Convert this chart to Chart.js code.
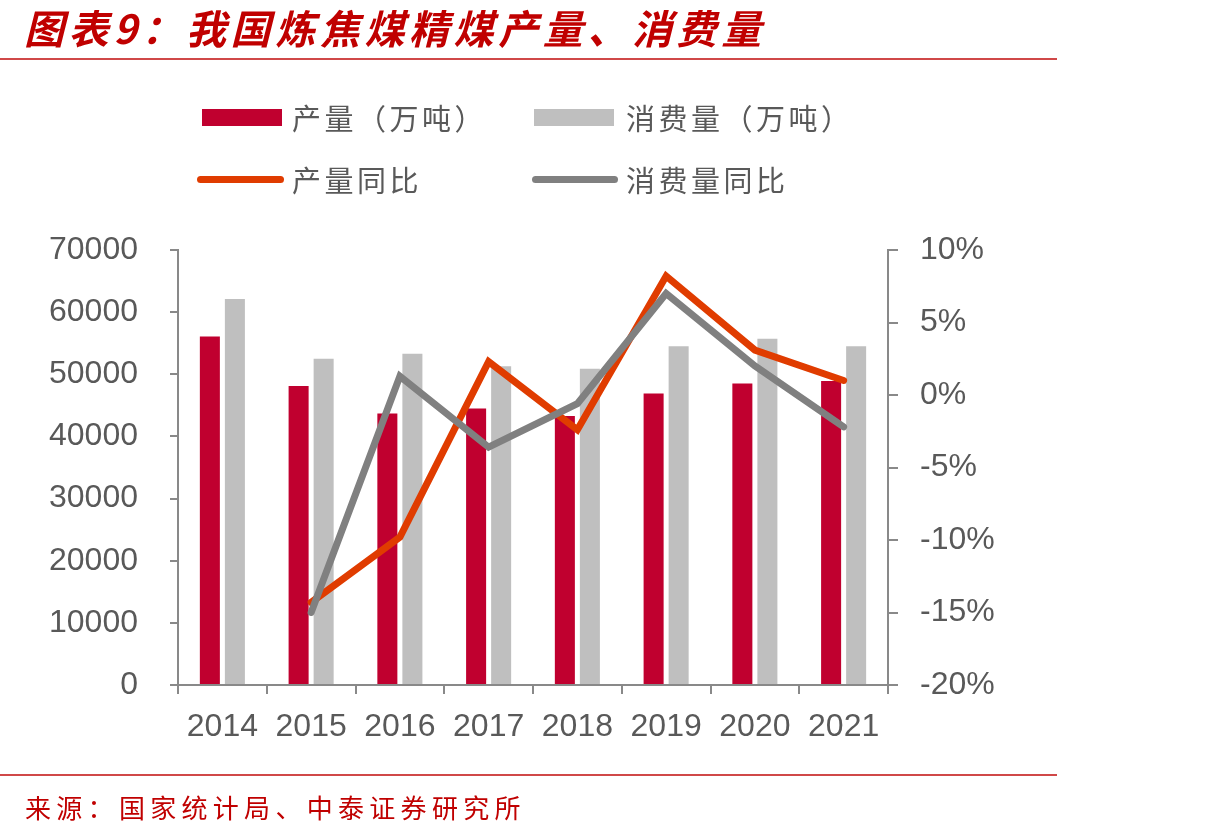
<!DOCTYPE html>
<html>
<head>
<meta charset="utf-8">
<script src="https://cdn.jsdelivr.net/npm/chart.js@4/dist/chart.umd.min.js"></script>
<style>
  html, body { margin: 0; padding: 0; background: #fff; }
  #wrap { position: relative; width: 1216px; height: 839px; overflow: hidden; }
  #c { position: absolute; left: 0; top: 0; }
  .title { position: absolute; left: 24px; top: 2px; font-family: "Noto Sans CJK SC", sans-serif; font-weight: 700; font-style: italic; font-size: 40px; line-height: 50px; color: #C00000; letter-spacing: 4.6px; white-space: nowrap; }
  .rule { position: absolute; left: 0; width: 1057px; height: 2px; background: #D04848; }
  .source { position: absolute; left: 25px; top: 789px; font-family: "Noto Sans CJK SC", sans-serif; font-size: 26px; line-height: 36px; color: #C00000; letter-spacing: 5.3px; white-space: nowrap; }
  .lg { position: absolute; font-family: "Noto Sans CJK SC", sans-serif; font-size: 29px; line-height: 40px; color: #595959; white-space: nowrap; letter-spacing: 3.5px; }
  .box { position: absolute; width: 80px; height: 17px; }
  .ln { position: absolute; height: 7px; border-radius: 4px; }
</style>
</head>
<body>
<div id="wrap">
  <canvas id="c" width="1216" height="839"></canvas>
  <div class="title">图表9：我国炼焦煤精煤产量、消费量</div>
  <div class="rule" style="top:58px"></div>
  <div class="box" style="left:202px; top:109px; background:#C0002F"></div>
  <div class="lg" style="left:292px; top:97px">产量（万吨）</div>
  <div class="box" style="left:534px; top:109px; background:#BFBFBF"></div>
  <div class="lg" style="left:626px; top:97px">消费量（万吨）</div>
  <div class="ln" style="left:197px; top:176px; width:87px; background:#E03C00"></div>
  <div class="lg" style="left:292px; top:159px">产量同比</div>
  <div class="ln" style="left:532px; top:176px; width:86px; background:#808080"></div>
  <div class="lg" style="left:626px; top:159px">消费量同比</div>
  <div class="rule" style="top:774px"></div>
  <div class="source">来源：国家统计局、中泰证券研究所</div>
</div>
<script>
const categories = ["2014", "2015", "2016", "2017", "2018", "2019", "2020", "2021"];
const production = [56100, 48100, 43700, 44500, 43300, 46900, 48500, 48900];
const consumption = [62100, 52500, 53300, 51300, 50900, 54500, 55700, 54500];
const productionYoY = [null, -14.3, -9.8, 2.3, -2.4, 8.2, 3.1, 1.0];
const consumptionYoY = [null, -15.0, 1.3, -3.6, -0.6, 7.0, 2.0, -2.2];
const seriesNames = ["产量（万吨）", "消费量（万吨）", "产量同比", "消费量同比"];

const axisColor = "#898989";
const tickFont = { family: "'Liberation Sans', Arial, sans-serif", size: 32 };
const tickColor = "#595959";

new Chart(document.getElementById("c"), {
  type: "bar",
  data: {
    labels: categories,
    datasets: [
      { type: "line", label: seriesNames[3], data: consumptionYoY, yAxisID: "y1", borderColor: "#808080", backgroundColor: "#808080", borderWidth: 7, pointRadius: 0, tension: 0, order: 0, borderCapStyle: "round" },
      { type: "line", label: seriesNames[2], data: productionYoY, yAxisID: "y1", borderColor: "#E03C00", backgroundColor: "#E03C00", borderWidth: 7, pointRadius: 0, tension: 0, order: 1, borderCapStyle: "round" },
      { label: seriesNames[0], data: production, yAxisID: "y", backgroundColor: "#C0002F", order: 2, barPercentage: 0.8, categoryPercentage: 0.564 },
      { label: seriesNames[1], data: consumption, yAxisID: "y", backgroundColor: "#BFBFBF", order: 3, barPercentage: 0.8, categoryPercentage: 0.564 }
    ]
  },
  options: {
    responsive: false,
    animation: false,
    devicePixelRatio: 1,
    layout: { padding: { top: 250, left: 0, right: 0, bottom: 0 } },
    plugins: { legend: { display: false }, tooltip: { enabled: false } },
    scales: {
      x: {
        offset: true,
        grid: { display: true, offset: true, drawOnChartArea: false, drawTicks: true, tickLength: 9, color: axisColor, lineWidth: 2 },
        border: { display: true, color: axisColor, width: 2 },
        ticks: { font: tickFont, color: tickColor, padding: 14, maxRotation: 0 },
        afterFit: (s) => { s.height = 154; }
      },
      y: {
        position: "left",
        min: 0, max: 70000,
        grid: { display: true, drawOnChartArea: false, drawTicks: true, tickLength: 8, color: axisColor, lineWidth: 2 },
        border: { display: true, color: axisColor, width: 2 },
        ticks: { stepSize: 10000, font: tickFont, color: tickColor, padding: 32, callback: (v) => String(v) },
        afterFit: (s) => { s.width = 178; }
      },
      y1: {
        position: "right",
        min: -20, max: 10,
        grid: { display: true, drawOnChartArea: false, drawTicks: true, tickLength: 10, color: axisColor, lineWidth: 2 },
        border: { display: true, color: axisColor, width: 2 },
        ticks: { stepSize: 5, font: tickFont, color: tickColor, padding: 22, callback: (v) => v + "%" },
        afterFit: (s) => { s.width = 1216 - 888; }
      }
    }
  }
});
</script>
</body>
</html>
